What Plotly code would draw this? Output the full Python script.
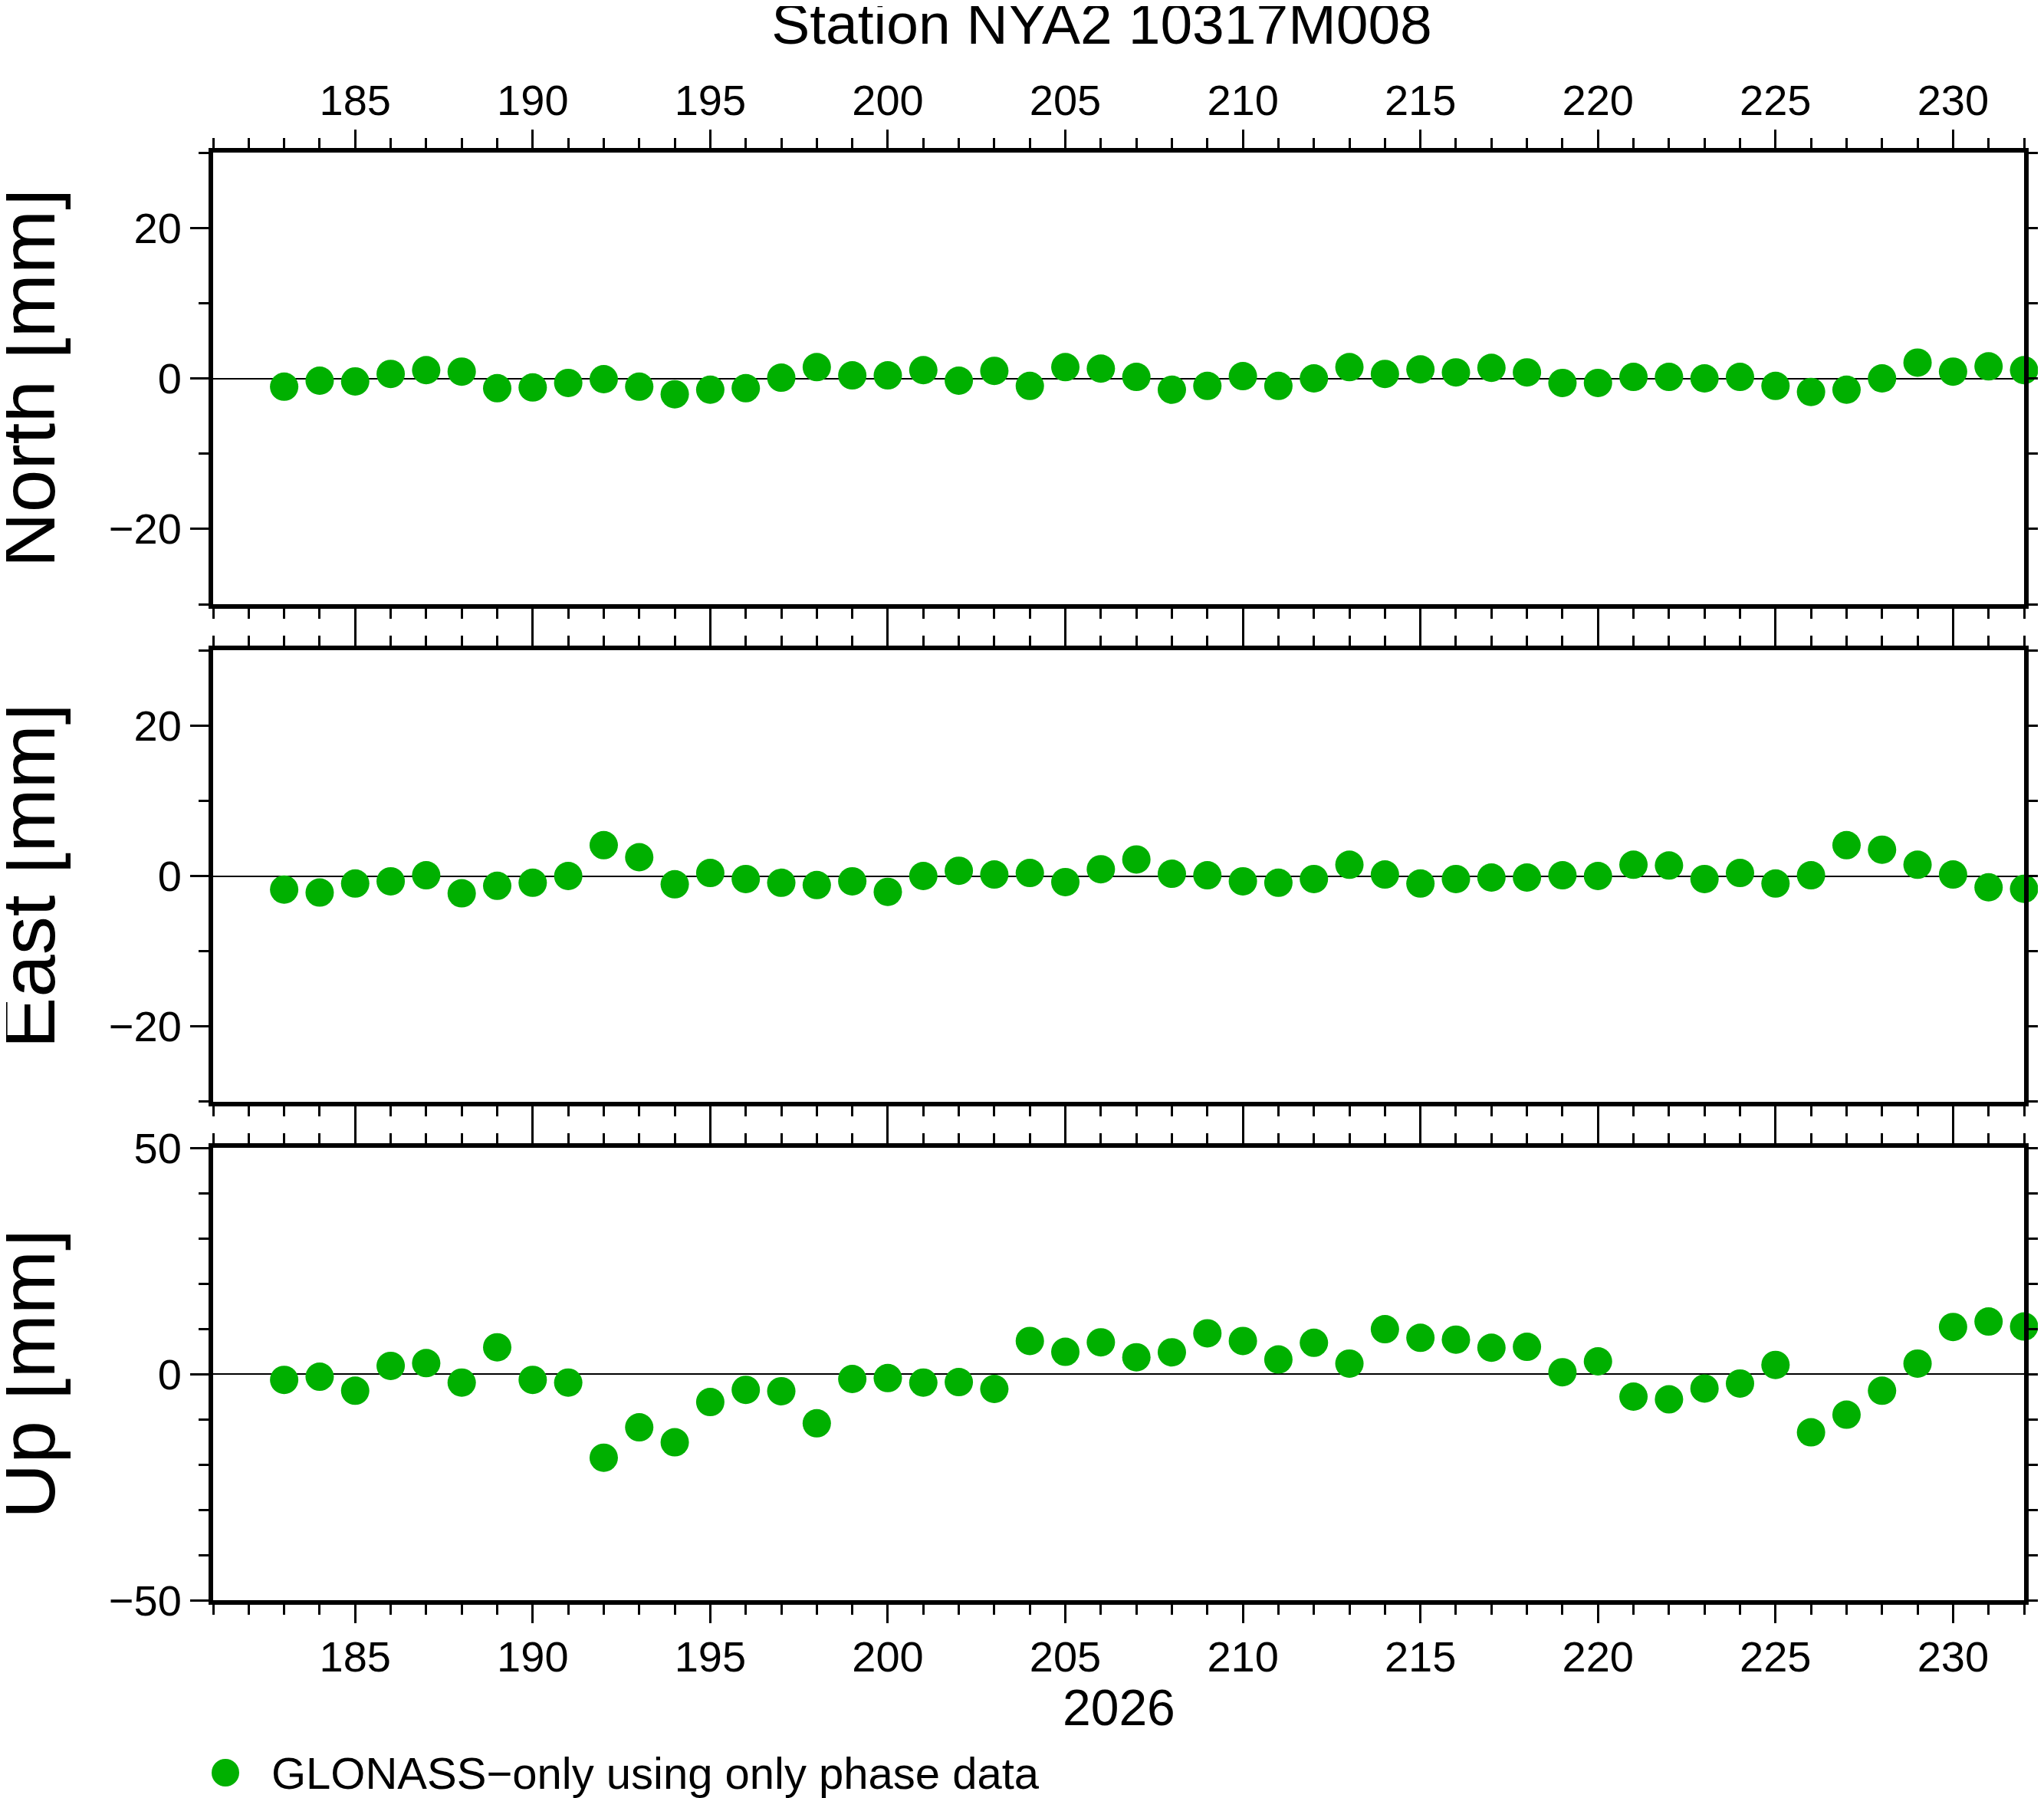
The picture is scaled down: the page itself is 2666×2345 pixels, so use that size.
import plotly.graph_objs as go

# ------------------------------------------------------------------------
# Data: daily coordinate residuals (mm), day of year 2026

day_of_year = list(range(183, 233))

north_mm = [-1.1, -0.3, -0.4, 0.6, 1.1, 0.9, -1.3, -1.2, -0.6, -0.1,
            -1.1, -2.1, -1.5, -1.3, 0.1, 1.5, 0.4, 0.4, 1.1, -0.3,
            1.0, -1.0, 1.5, 1.3, 0.2, -1.5, -1.0, 0.3, -1.0, 0.0,
            1.5, 0.6, 1.2, 0.8, 1.4, 0.8, -0.6, -0.6, 0.2, 0.2,
            0.0, 0.2, -1.0, -1.8, -1.5, 0.0, 2.1, 0.9, 1.6, 1.1]

east_mm = [-1.8, -2.2, -1.0, -0.7, 0.1, -2.3, -1.3, -0.9, 0.0, 4.1,
           2.5, -1.1, 0.4, -0.4, -0.9, -1.2, -0.7, -2.1, 0.0, 0.7,
           0.2, 0.4, -0.8, 0.9, 2.2, 0.3, 0.1, -0.7, -0.9, -0.4,
           1.5, 0.2, -1.0, -0.4, -0.2, -0.2, 0.1, 0.0, 1.5, 1.4,
           -0.4, 0.4, -1.0, 0.1, 4.1, 3.5, 1.5, 0.2, -1.5, -1.7]

up_mm = [-1.3, -0.6, -3.7, 1.8, 2.4, -1.9, 5.9, -1.3, -1.9, -18.5,
         -11.8, -15.1, -6.2, -3.5, -3.8, -10.9, -1.1, -0.9, -1.9, -1.8,
         -3.3, 7.3, 4.9, 7.0, 3.7, 4.8, 9.0, 7.3, 3.2, 6.9,
         2.3, 9.9, 8.0, 7.6, 5.8, 6.0, 0.4, 2.8, -5.0, -5.6,
         -3.2, -2.1, 2.0, -12.9, -9.0, -3.7, 2.3, 10.4, 11.6, 10.5]

station_title = "Station NYA2 10317M008"
year_label = "2026"
series_label = "GLONASS\u2212only using only phase data"

# ------------------------------------------------------------------------

FONT = "Liberation Sans, Arial, Helvetica, sans-serif"
GREEN = "#00b000"

# the page body keeps its default 8px margin, so the figure is shifted by it
OFF = 8
W, H = 2666 - 2 * OFF, 2345 - OFF
M_L, M_R, M_T = 278 - OFF, 26 - OFF, 199 - OFF
M_B = H - (2087 - OFF)
plot_w = W - M_L - M_R
plot_h = H - M_T - M_B
plot_bottom = H - M_B


def below_plot(y_page):
    # page pixel (reference coords) below the plot area -> paper y
    return -((y_page - OFF) - plot_bottom) / plot_h


def paper_x(x_page):
    return ((x_page - OFF) - M_L) / plot_w


dom_top = [0.688, 1.0]
dom_mid = [0.3443, 0.6562]
dom_bot = [0.0, 0.3125]

fig = go.Figure()

for values, xa, ya in [(north_mm, "x3", "y3"), (east_mm, "x2", "y2"), (up_mm, "x", "y")]:
    fig.add_trace(go.Scatter(
        x=day_of_year,
        y=values,
        mode="markers",
        marker=dict(size=37, color=GREEN, line=dict(width=0)),
        xaxis=xa,
        yaxis=ya,
        cliponaxis=False,
        showlegend=False,
        hovertemplate="day %{x}: %{y:.1f} mm<extra></extra>"
    ))

x_common = dict(
    range=[181, 232], tick0=0, dtick=5,
    ticks="outside", ticklen=24, tickwidth=3, tickcolor="black",
    minor=dict(dtick=1, tick0=0, ticks="outside", ticklen=13, tickwidth=3, tickcolor="black"),
    showline=True, linewidth=6, linecolor="black", mirror="ticks",
    showgrid=False, zeroline=False, automargin=False,
    tickfont=dict(family=FONT, size=56, color="black"),
)

y_common = dict(
    ticks="outside", ticklen=24, tickwidth=3, tickcolor="black",
    showline=True, linewidth=6, linecolor="black", mirror="ticks",
    showgrid=False, zeroline=True, zerolinecolor="black", zerolinewidth=2,
    automargin=False,
    tickfont=dict(family=FONT, size=56, color="black"),
)

y_minor = dict(dtick=10, tick0=0, ticks="outside", ticklen=13, tickwidth=3, tickcolor="black")

fig.update_layout(
    width=W, height=H,
    template="none",
    paper_bgcolor="white", plot_bgcolor="white",
    margin=dict(l=M_L, r=M_R, t=M_T, b=M_B, pad=0),
    font=dict(family=FONT, color="black"),
    title=dict(text=station_title, x=paper_x(1437), xref="paper", xanchor="center",
               y=1 - (31 - OFF) / H, yref="container", yanchor="middle",
               font=dict(family=FONT, size=75, color="black")),
    xaxis=dict(x_common, anchor="y", side="bottom", ticklabelstandoff=-4),
    xaxis2=dict(x_common, anchor="y2", matches="x", showticklabels=False),
    xaxis3=dict(x_common, anchor="y3", matches="x", side="top", ticklabelstandoff=-3),
    yaxis=dict(y_common, domain=dom_bot, anchor="x", range=[-50, 50], tick0=0, dtick=50, minor=y_minor),
    yaxis2=dict(y_common, domain=dom_mid, anchor="x2", range=[-30, 30], tick0=0, dtick=20, minor=y_minor),
    yaxis3=dict(y_common, domain=dom_top, anchor="x3", range=[-30, 30], tick0=0, dtick=20, minor=y_minor),
)

# Panel labels on the left
for label, dom in [("North [mm]", dom_top), ("East [mm]", dom_mid), ("Up [mm]", dom_bot)]:
    fig.add_annotation(text=label, textangle=-90, xref="paper", yref="paper",
                       x=0, xshift=(36 - OFF) - M_L, xanchor="center",
                       y=(dom[0] + dom[1]) / 2, yanchor="middle",
                       showarrow=False, font=dict(family=FONT, size=100, color="black"))

# Year label under the bottom axis
fig.add_annotation(text=year_label, xref="paper", yref="paper",
                   x=paper_x(1459), y=below_plot(2227), xanchor="center", yanchor="middle",
                   showarrow=False, font=dict(family=FONT, size=66, color="black"))

# Legend drawn by hand so the symbol keeps its real size
fig.add_shape(type="circle", xref="paper", yref="paper",
              xsizemode="pixel", ysizemode="pixel",
              xanchor=paper_x(294), yanchor=below_plot(2312),
              x0=-18, x1=18, y0=-18, y1=18,
              fillcolor=GREEN, line=dict(width=0))
fig.add_annotation(text=series_label, xref="paper", yref="paper",
                   x=paper_x(352), y=below_plot(2312), xanchor="left", yanchor="middle",
                   showarrow=False, font=dict(family=FONT, size=58, color="black"))

fig.write_html("out.html")
